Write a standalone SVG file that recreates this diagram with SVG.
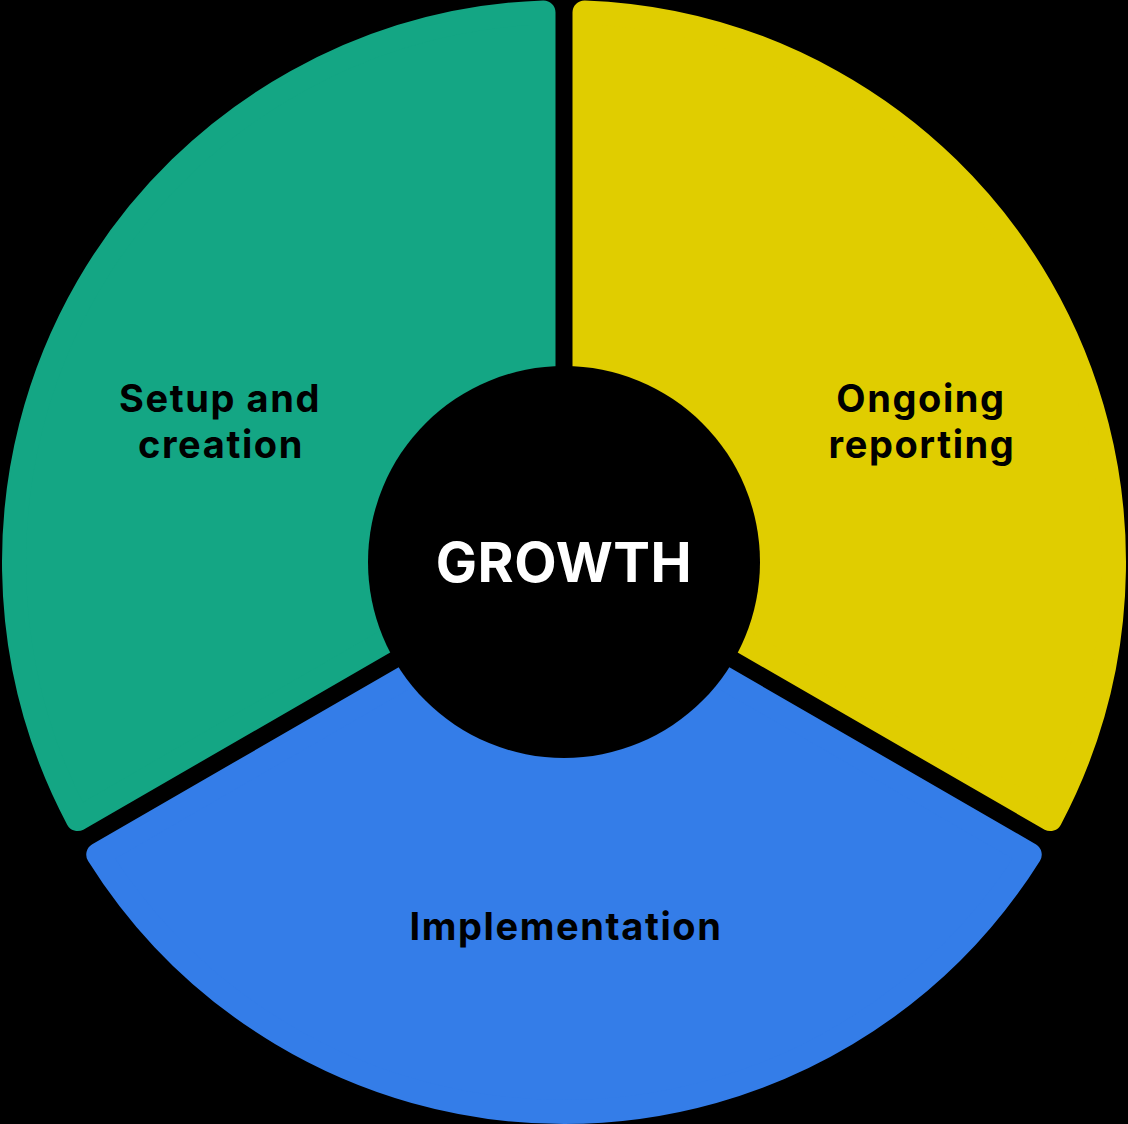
<svg xmlns="http://www.w3.org/2000/svg" width="1128" height="1124" viewBox="0 0 1128 1124">
<style>
.seg{stroke-width:24;stroke-linejoin:round}
.lbl{font-family:Inter,"Liberation Sans",sans-serif;font-weight:700;font-size:38px;fill:#000;text-anchor:middle;letter-spacing:1.6px}
.ctr{font-family:Inter,"Liberation Sans",sans-serif;font-weight:700;font-size:55px;fill:#fff;text-anchor:middle;letter-spacing:0.5px}
</style>
<rect width="1128" height="1124" fill="#000"/>
<g id="setup">
<path class="seg" fill="#14A684" stroke="#14A684" d="M 543.5 12.38 A 550 550 0 0 0 77.77 819.06 L 543.5 550.17 Z"/>
</g>
<g id="ongoing">
<path class="seg" fill="#E0CD00" stroke="#E0CD00" d="M 584.5 12.38 A 550 550 0 0 1 1050.23 819.06 L 584.5 550.17 Z"/>
</g>
<g id="implementation">
<path class="seg" fill="#347DE8" stroke="#347DE8" d="M 98.27 854.56 A 550 550 0 0 0 1029.73 854.56 L 564 585.67 Z"/>
</g>
<g id="growth">
<circle cx="564" cy="562" r="196" fill="#000"/>
<text class="ctr" x="564" y="582">GROWTH</text>
</g>
<g id="labels">
<text class="lbl" x="220" y="412">Setup and</text>
<text class="lbl" x="221" y="458">creation</text>
<text class="lbl" x="921" y="412">Ongoing</text>
<text class="lbl" x="922" y="458">reporting</text>
<text class="lbl" x="566" y="940">Implementation</text>
</g>
<g id="connectors"></g>
</svg>
